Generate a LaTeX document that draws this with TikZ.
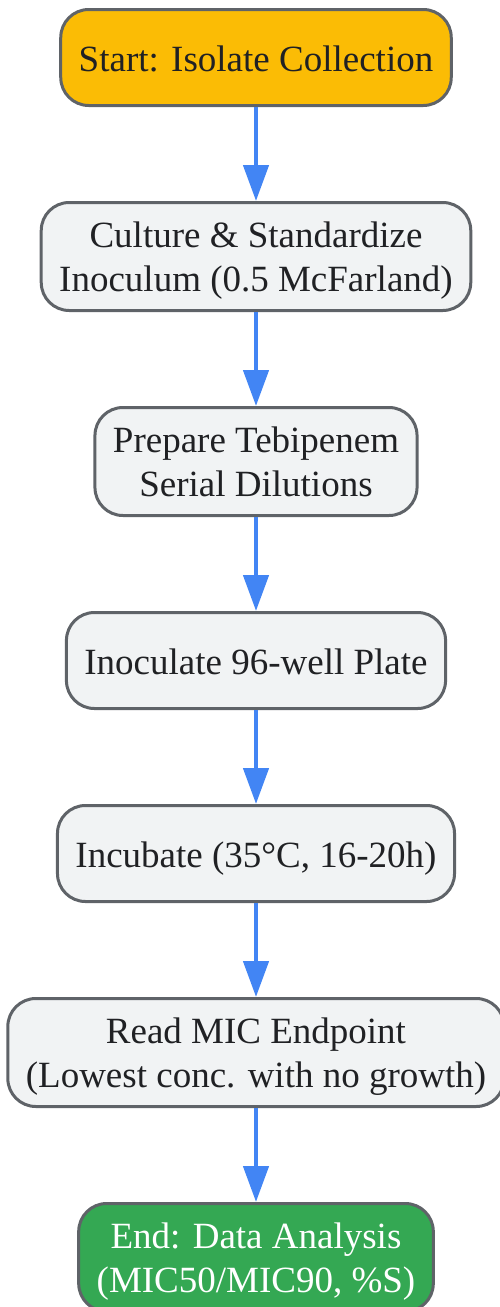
\documentclass[tikz,border=0pt]{standalone}
\usepackage{fontspec}
\setmainfont{Liberation Serif}
\usetikzlibrary{positioning}
\usetikzlibrary{arrows.meta}

\definecolor{startfill}{HTML}{FBBC05}
\definecolor{endfill}{HTML}{34A853}
\definecolor{stepfill}{HTML}{F1F3F4}
\definecolor{stepborder}{HTML}{5F6368}
\definecolor{steptext}{HTML}{202124}
\definecolor{flowblue}{HTML}{4285F4}

\begin{document}
\begin{tikzpicture}[x=0.5pt,y=0.5pt,
    stepbox/.style = {rectangle, rounded corners=14pt, draw=stepborder, line width=1.5pt,
        fill=stepfill, text=steptext, align=center, font=\fontsize{18.5}{22}\selectfont,
        inner xsep=9pt, inner ysep=0pt, minimum height=48pt,
        text height=14pt, text depth=0pt},
    twoline/.style = {minimum height=54pt, text height=35pt, text depth=0pt},
    startbox/.style = {stepbox, fill=startfill},
    endbox/.style = {stepbox, twoline, fill=endfill, text=white},
    flow/.style = {draw=flowblue, line width=2.3pt, -{Triangle[length=18pt,width=12.5pt]}},
    node distance=47pt]
    \useasboundingbox (0,0) rectangle (499,-1307);
    \node [startbox] (start) at (256,-57.5) {Start: Isolate Collection};
    \node [stepbox,twoline,below=of start] (culture) {Culture \& Standardize\\Inoculum (0.5 McFarland)};
    \node [stepbox,twoline,below=of culture] (dilute) {Prepare Tebipenem\\Serial Dilutions};
    \node [stepbox,below=of dilute] (plate) {Inoculate 96-well Plate};
    \node [stepbox,below=of plate] (incubate) {Incubate (35°C, 16-20h)};
    \node [stepbox,twoline,below=of incubate] (readmic) {Read MIC Endpoint\\(Lowest conc. with no growth)};
    \node [endbox,below=of readmic] (analysis) {End: Data Analysis\\(MIC50/MIC90, \%S)};
    \foreach \a/\b in {start/culture,culture/dilute,dilute/plate,plate/incubate,incubate/readmic,readmic/analysis}
        \draw [flow] (\a) -- (\b);
\end{tikzpicture}
\end{document}
